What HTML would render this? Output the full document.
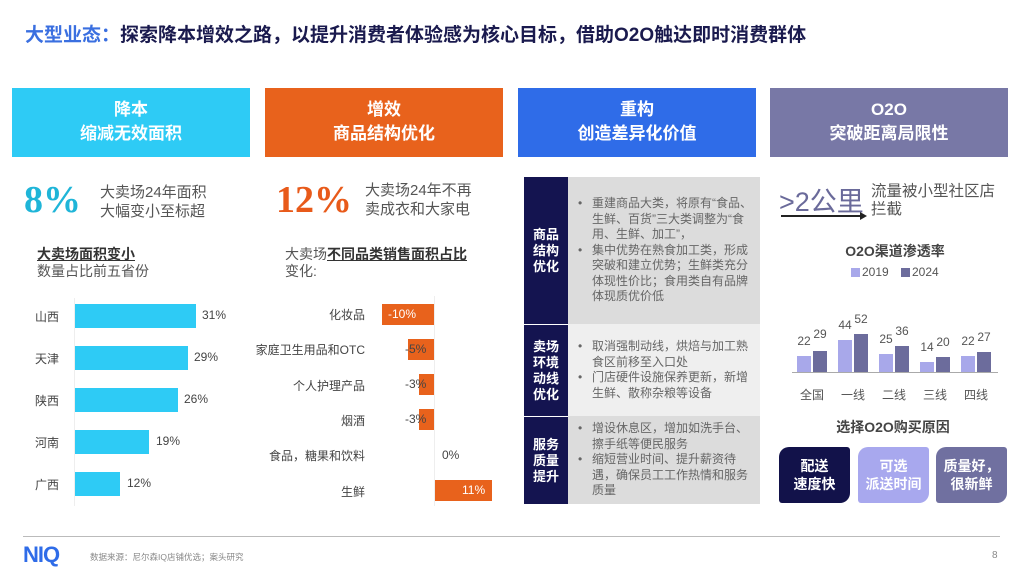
<!DOCTYPE html>
<html><head><meta charset="utf-8"><style>
*{margin:0;padding:0;box-sizing:border-box}
body{width:1024px;height:576px;background:#fff;position:relative;overflow:hidden;font-family:"Liberation Sans","Noto Sans CJK SC",sans-serif}
.a{position:absolute}
.hb{position:absolute;top:88px;height:69px;width:238px;color:#fff;font-weight:bold;font-size:17px;line-height:24px;text-align:center;padding-top:10px}
.g{color:#555}
.bar{position:absolute;background:#2ecbf5;height:24px;left:75px}
.lb{position:absolute;left:35px;font-size:12px;color:#444}
.vl{position:absolute;font-size:12px;color:#444}
.rl{position:absolute;width:200px;left:165px;text-align:right;font-size:12px;color:#444}
.ob{position:absolute;background:#e8621c;height:21px}
.ov{position:absolute;font-size:12px;color:#444}
.nv{position:absolute;left:524px;width:44px;background:#141450;color:#fff;font-weight:bold;font-size:13px;line-height:16px;text-align:center;display:flex;align-items:center;justify-content:center}
.tx{position:absolute;left:568px;width:192px;font-size:12px;line-height:15.5px;color:#666;padding:0 8px 0 24px;display:flex;flex-direction:column;justify-content:center}
.tx p{position:relative}
.tx p:before{content:"•";position:absolute;left:-14px}
.b19{position:absolute;background:#a8a8ea;width:14px}
.b24{position:absolute;background:#6c6c9c;width:14px}
.n{position:absolute;font-size:12px;color:#555;width:30px;text-align:center}
.rb{position:absolute;top:447px;height:56px;width:71px;border-radius:10px 3px 10px 3px;color:#fff;font-weight:bold;font-size:14px;line-height:18px;text-align:center;padding-top:10px}
</style></head><body>
<div class="a" style="left:25px;top:20px;font-size:19px;font-weight:bold;color:#1a1a4e;white-space:nowrap"><span style="color:#3a6fe0">大型业态：</span>探索降本增效之路，以提升消费者体验感为核心目标，借助O2O触达即时消费群体</div>

<div class="hb" style="left:12px;background:#2ecbf5">降本<br>缩减无效面积</div>
<div class="hb" style="left:265px;background:#e8621c">增效<br>商品结构优化</div>
<div class="hb" style="left:518px;background:#2f6ce8">重构<br>创造差异化价值</div>
<div class="hb" style="left:770px;background:#7878a6">O2O<br>突破距离局限性</div>

<div class="a" style="left:24px;top:178px;font-size:38px;font-weight:bold;color:#1fb5d8;font-family:'Liberation Serif',serif">8%</div>
<div class="a g" style="left:100px;top:183px;font-size:15px;line-height:19px">大卖场24年面积<br>大幅变小至标超</div>
<div class="a" style="left:276px;top:178px;font-size:38px;font-weight:bold;color:#e85a1a;font-family:'Liberation Serif',serif">12%</div>
<div class="a g" style="left:365px;top:181px;font-size:15px;line-height:19px">大卖场24年不再<br>卖成衣和大家电</div>

<div class="a g" style="left:37px;top:246px;font-size:14px;line-height:17px"><b style="text-decoration:underline;color:#333">大卖场面积变小</b><br>数量占比前五省份</div>
<div class="a g" style="left:285px;top:246px;font-size:14px;line-height:17px">大卖场<b style="text-decoration:underline;color:#333">不同品类销售面积占比</b><br>变化:</div>

<div class="a" style="left:74px;top:298px;width:1px;height:208px;background:#eee"></div>
<div class="lb" style="top:308px">山西</div><div class="bar" style="top:304px;width:121px"></div><div class="vl" style="left:202px;top:308px">31%</div>
<div class="lb" style="top:350px">天津</div><div class="bar" style="top:346px;width:113px"></div><div class="vl" style="left:194px;top:350px">29%</div>
<div class="lb" style="top:392px">陕西</div><div class="bar" style="top:388px;width:103px"></div><div class="vl" style="left:184px;top:392px">26%</div>
<div class="lb" style="top:434px">河南</div><div class="bar" style="top:430px;width:74px"></div><div class="vl" style="left:156px;top:434px">19%</div>
<div class="lb" style="top:476px">广西</div><div class="bar" style="top:472px;width:45px"></div><div class="vl" style="left:127px;top:476px">12%</div>

<div class="a" style="left:434px;top:296px;width:1px;height:210px;background:#eee"></div>
<div class="rl" style="top:306px">化妆品</div><div class="ob" style="left:382px;top:304px;width:52px"></div><div class="ov" style="left:388px;top:307px;color:#fff">-10%</div>
<div class="rl" style="top:341px">家庭卫生用品和OTC</div><div class="ob" style="left:408px;top:339px;width:26px"></div><div class="ov" style="left:405px;top:342px">-5%</div>
<div class="rl" style="top:377px">个人护理产品</div><div class="ob" style="left:419px;top:374px;width:15px"></div><div class="ov" style="left:405px;top:377px">-3%</div>
<div class="rl" style="top:412px">烟酒</div><div class="ob" style="left:419px;top:409px;width:15px"></div><div class="ov" style="left:405px;top:412px">-3%</div>
<div class="rl" style="top:447px">食品，糖果和饮料</div><div class="ov" style="left:442px;top:448px">0%</div>
<div class="rl" style="top:483px">生鲜</div><div class="ob" style="left:435px;top:480px;width:57px"></div><div class="ov" style="left:462px;top:483px;color:#fff">11%</div>

<div class="nv" style="top:177px;height:147px">商品<br>结构<br>优化</div>
<div class="tx" style="top:177px;height:147px;background:#dcdcdc"><p>重建商品大类，将原有“食品、生鲜、百货”三大类调整为“食用、生鲜、加工”，</p><p>集中优势在熟食加工类，形成突破和建立优势；生鲜类充分体现性价比；食用类自有品牌体现质优价低</p></div>
<div class="nv" style="top:324px;height:92px;border-top:1px solid #fff">卖场<br>环境<br>动线<br>优化</div>
<div class="tx" style="top:324px;height:92px;background:#efefef"><p>取消强制动线，烘焙与加工熟食区前移至入口处</p><p>门店硬件设施保养更新，新增生鲜、散称杂粮等设备</p></div>
<div class="nv" style="top:416px;height:88px;border-top:1px solid #fff">服务<br>质量<br>提升</div>
<div class="tx" style="top:416px;height:88px;background:#dcdcdc"><p>增设休息区，增加如洗手台、擦手纸等便民服务</p><p>缩短营业时间、提升薪资待遇，确保员工工作热情和服务质量</p></div>

<div class="a" style="left:779px;top:180px;font-size:27px;color:#6a6a9a">&gt;2公里</div>
<div class="a g" style="left:871px;top:183px;font-size:15.5px;line-height:18px">流量被小型社区店<br>拦截</div>
<div class="a" style="left:781px;top:215px;width:80px;height:2px;background:#222"></div>
<div class="a" style="left:860px;top:212px;border-left:7px solid #222;border-top:4px solid transparent;border-bottom:4px solid transparent"></div>
<div class="a" style="left:820px;top:241px;width:150px;text-align:center;font-size:14px;font-weight:bold;color:#444">O2O渠道渗透率</div>
<div class="a" style="left:851px;top:268px;width:9px;height:9px;background:#a8a8ea"></div><div class="a g" style="left:862px;top:265px;font-size:12px">2019</div>
<div class="a" style="left:901px;top:268px;width:9px;height:9px;background:#6c6c9c"></div><div class="a g" style="left:912px;top:265px;font-size:12px">2024</div>
<div class="a" style="left:792px;top:372px;width:206px;height:1px;background:#aaa"></div>
<div class="b19" style="left:797px;top:356px;height:16px"></div><div class="b24" style="left:813px;top:351px;height:21px"></div>
<div class="b19" style="left:838px;top:340px;height:32px"></div><div class="b24" style="left:854px;top:334px;height:38px"></div>
<div class="b19" style="left:879px;top:354px;height:18px"></div><div class="b24" style="left:895px;top:346px;height:26px"></div>
<div class="b19" style="left:920px;top:362px;height:10px"></div><div class="b24" style="left:936px;top:357px;height:15px"></div>
<div class="b19" style="left:961px;top:356px;height:16px"></div><div class="b24" style="left:977px;top:352px;height:20px"></div>
<div class="n" style="left:789px;top:334px">22</div><div class="n" style="left:805px;top:327px">29</div>
<div class="n" style="left:830px;top:318px">44</div><div class="n" style="left:846px;top:312px">52</div>
<div class="n" style="left:871px;top:332px">25</div><div class="n" style="left:887px;top:324px">36</div>
<div class="n" style="left:912px;top:340px">14</div><div class="n" style="left:928px;top:335px">20</div>
<div class="n" style="left:953px;top:334px">22</div><div class="n" style="left:969px;top:330px">27</div>
<div class="n" style="left:797px;top:386px">全国</div><div class="n" style="left:838px;top:386px">一线</div><div class="n" style="left:879px;top:386px">二线</div><div class="n" style="left:920px;top:386px">三线</div><div class="n" style="left:961px;top:386px">四线</div>
<div class="a" style="left:818px;top:417px;width:150px;text-align:center;font-size:14px;font-weight:bold;color:#444">选择O2O购买原因</div>
<div class="rb" style="left:779px;background:#12124a">配送<br>速度快</div>
<div class="rb" style="left:858px;background:#a8a8ee">可选<br>派送时间</div>
<div class="rb" style="left:936px;background:#7070a0">质量好，<br>很新鲜</div>

<div class="a" style="left:23px;top:536px;width:977px;height:1px;background:#bbb"></div>
<div class="a" style="left:23px;top:542px;font-size:22px;font-weight:bold;color:#2f6ce8;letter-spacing:-1px">NIQ</div>
<div class="a" style="left:90px;top:551px;font-size:8.5px;color:#888">数据来源：尼尔森IQ店铺优选；案头研究</div>
<div class="a" style="left:992px;top:550px;font-size:10px;color:#888">8</div>
</body></html>
